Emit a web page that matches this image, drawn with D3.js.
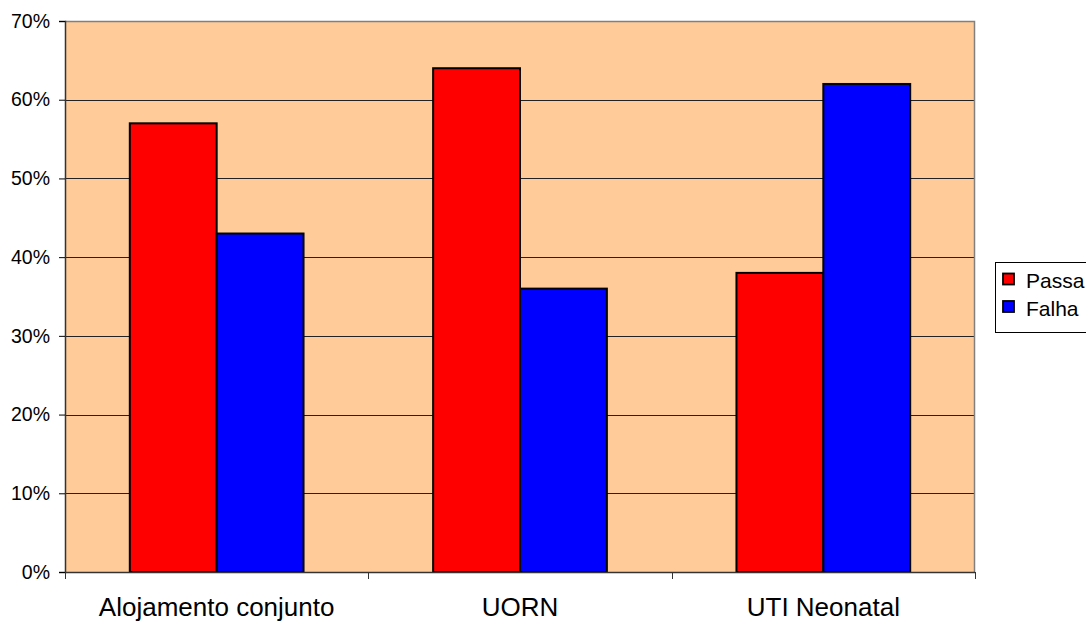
<!DOCTYPE html>
<html>
<head>
<meta charset="utf-8">
<script src="https://cdn.jsdelivr.net/npm/d3@7"></script>
<style>
  html, body { margin: 0; padding: 0; background: #fff; overflow: hidden; }
  svg { display: block; font-family: Arial, "Liberation Sans", sans-serif; }
</style>
</head>
<body>
<svg id="chart" width="1086" height="621"></svg>
<script>
// Categories and series (percent)
const categories = ["Alojamento conjunto", "UORN", "UTI Neonatal"];
const seriesNames = ["Passa", "Falha"];
const passa = [57, 64, 38];
const falha = [43, 36, 62];
const yTicks = [0, 10, 20, 30, 40, 50, 60, 70];
const colors = ["#ff0000", "#0000ff"];

const svg = d3.select("#chart");
const plot = { left: 65, top: 21, right: 975, bottom: 572 };

const x0 = d3.scaleBand().domain(categories).range([plot.left, plot.right]).paddingInner(0).paddingOuter(0);
const x1 = d3.scaleBand().domain(seriesNames).range([0, x0.bandwidth()]).paddingInner(0).paddingOuter(0.746);
const y = d3.scaleLinear().domain([0, 70]).range([plot.bottom, plot.top]);

// plot background
svg.append("rect")
  .attr("x", plot.left).attr("y", plot.top)
  .attr("width", plot.right - plot.left).attr("height", plot.bottom - plot.top)
  .attr("fill", "#ffcc99");

// gridlines
svg.append("g").selectAll("line").data(yTicks.filter(d => d > 0 && d < 70)).join("line")
  .attr("x1", plot.left).attr("x2", plot.right)
  .attr("y1", d => Math.round(y(d)) + 0.5).attr("y2", d => Math.round(y(d)) + 0.5)
  .attr("stroke", "#222").attr("stroke-width", 1);

// top and right border
svg.append("path")
  .attr("d", `M${plot.left},${plot.top + 0.5}H${plot.right - 0.5}V${plot.bottom}`)
  .attr("fill", "none").attr("stroke", "#808080").attr("stroke-width", 1.5);

// bars
const data = categories.map((c, i) => ({ cat: c, vals: [passa[i], falha[i]] }));
const groups = svg.append("g").selectAll("g").data(data).join("g")
  .attr("transform", d => `translate(${x0(d.cat)},0)`);
groups.selectAll("rect").data(d => d.vals.map((v, j) => ({ name: seriesNames[j], v, j }))).join("rect")
  .attr("x", d => x1(d.name)).attr("width", x1.bandwidth())
  .attr("y", d => y(d.v)).attr("height", d => y(0) - y(d.v))
  .attr("fill", d => colors[d.j])
  .attr("stroke", "#000").attr("stroke-width", 2);

// y axis
const yAxis = d3.axisLeft(y).tickValues(yTicks).tickFormat(d => d + "%").tickSize(6).tickPadding(9);
const gy = svg.append("g").attr("transform", `translate(${plot.left},0)`).call(yAxis);
gy.select(".domain").attr("stroke", "#333").attr("stroke-width", 1.5);
gy.selectAll(".tick line").attr("stroke", "#000");
gy.selectAll(".tick text").attr("font-size", 19.5).attr("fill", "#000")
  .attr("font-family", "Arial, 'Liberation Sans', sans-serif");

// x axis
const gx = svg.append("g").attr("transform", `translate(0,${plot.bottom})`);
gx.append("line").attr("x1", plot.left).attr("x2", plot.right)
  .attr("y1", 0.5).attr("y2", 0.5).attr("stroke", "#333").attr("stroke-width", 1.5);
const bounds = [...categories.map(c => x0(c)), plot.right];
gx.selectAll("line.tk").data(bounds).join("line").attr("class", "tk")
  .attr("x1", d => Math.round(d) + 0.5).attr("x2", d => Math.round(d) + 0.5)
  .attr("y1", 0).attr("y2", 7).attr("stroke", "#333");
gx.selectAll("text").data(categories).join("text")
  .attr("x", d => x0(d) + x0.bandwidth() / 2).attr("y", 44)
  .attr("text-anchor", "middle").attr("font-size", 26).attr("fill", "#000")
  .text(d => d);

// legend
const leg = svg.append("g").attr("transform", "translate(995,262)");
leg.append("rect").attr("x", 0.5).attr("y", 0.5).attr("width", 120).attr("height", 70)
  .attr("fill", "#fff").attr("stroke", "#000").attr("stroke-width", 1);
seriesNames.forEach((n, i) => {
  const row = leg.append("g").attr("transform", `translate(0,${i * 27.5})`);
  row.append("rect").attr("x", 8).attr("y", 11.5).attr("width", 11).attr("height", 11)
    .attr("fill", colors[i]).attr("stroke", "#000").attr("stroke-width", 1.8);
  row.append("text").attr("x", 31).attr("y", 26).attr("font-size", 21).attr("fill", "#000").text(n);
});
</script>
</body>
</html>
